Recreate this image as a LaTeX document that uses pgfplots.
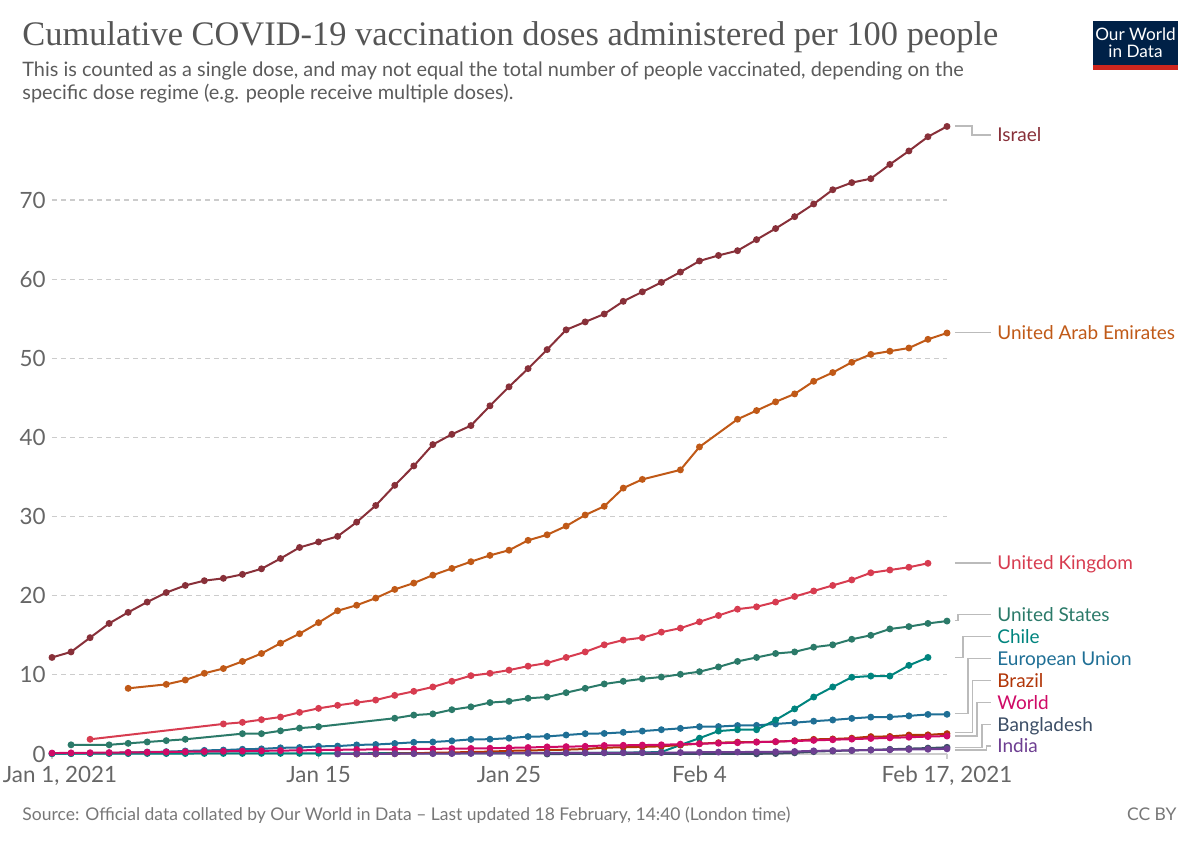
\documentclass[border=0pt]{standalone}
\usepackage{pgfplots}
\pgfplotsset{compat=1.18}
\usepackage{fontspec}
\setmainfont{Lato}
\newfontfamily\titlefont{Liberation Serif}
\definecolor{cIsr}{HTML}{883039}
\definecolor{cUAE}{HTML}{C05917}
\definecolor{cUK}{HTML}{D73C50}
\definecolor{cUS}{HTML}{2B7A69}
\definecolor{cChile}{HTML}{00847E}
\definecolor{cEU}{HTML}{1F6F95}
\definecolor{cBra}{HTML}{B13507}
\definecolor{cWorld}{HTML}{CF0A66}
\definecolor{cBang}{HTML}{3C4E66}
\definecolor{cInd}{HTML}{6D3E91}
\definecolor{tickgray}{HTML}{666666}
\definecolor{titlegray}{HTML}{555555}
\definecolor{subgray}{HTML}{5B5B5B}
\definecolor{footgray}{HTML}{777777}
\definecolor{gridgray}{HTML}{CCCCCC}
\definecolor{conngray}{HTML}{BBBBBB}
\definecolor{owidnavy}{HTML}{002147}
\definecolor{owidred}{HTML}{CE261E}
\begin{document}
\begin{tikzpicture}
\path[use as bounding box] (0,0) rectangle (600bp,-423.5bp);
\begin{axis}[
  at={(26bp,-377bp)}, anchor=south west,
  scale only axis, width=447.5bp, height=316.55bp,
  xmin=0, xmax=47, ymin=0, ymax=80,
  clip=false,
  axis line style={draw=none},
  tick pos=left,
  tick align=outside,
  major tick length=2.5bp,
  xtick={0,14,24,34,47},
  xticklabels={{\hspace*{8bp}Jan 1, 2021},Jan 15,Jan 25,Feb 4,{Feb 17, 2021}},
  ytick={0,10,20,30,40,50,60,70},
  xtick style={draw=gridgray, line width=0.6bp},
  ytick style={draw=none},
  ymajorgrids,
  grid style={draw=gridgray, line width=0.6bp, dash pattern=on 2.5bp off 2bp},
  /pgf/number format/assume math mode=true,
  ticklabel style={font=\fontsize{11.2bp}{13bp}\selectfont, text=tickgray},
  yticklabel style={inner sep=0pt, xshift=-0.5bp},
  xticklabel style={inner sep=0pt, yshift=-3.5bp},
  every axis plot/.append style={line width=1bp, mark=*, mark size=1.2bp, mark options={solid}},
]
\draw[draw=gridgray, line width=0.8bp] (axis cs:0,0) -- (axis cs:47,0);
% Israel
\addplot[color=cIsr] coordinates {
(0,12.2)(1,12.9)(2,14.7)(3,16.5)(4,17.9)(5,19.2)(6,20.4)(7,21.3)(8,21.9)(9,22.2)
(10,22.7)(11,23.4)(12,24.7)(13,26.1)(14,26.8)(15,27.5)(16,29.3)(17,31.4)(18,33.95)(19,36.4)
(20,39.1)(21,40.4)(22,41.5)(23,44.0)(24,46.4)(25,48.7)(26,51.1)(27,53.6)(28,54.6)(29,55.6)
(30,57.2)(31,58.4)(32,59.6)(33,60.9)(34,62.3)(35,63.0)(36,63.6)(37,65.0)(38,66.4)(39,67.9)
(40,69.5)(41,71.3)(42,72.2)(43,72.7)(44,74.5)(45,76.2)(46,78.0)(47,79.3)};
% UAE
\addplot[color=cUAE] coordinates {
(4,8.3)(6,8.8)(7,9.35)(8,10.2)(9,10.8)(10,11.7)(11,12.7)(12,14.0)(13,15.2)(14,16.6)
(15,18.1)(16,18.8)(17,19.7)(18,20.8)(19,21.6)(20,22.6)(21,23.45)(22,24.3)(23,25.1)(24,25.75)
(25,27.0)(26,27.7)(27,28.8)(28,30.2)(29,31.3)(30,33.6)(31,34.7)(33,35.9)(34,38.8)(36,42.3)
(37,43.4)(38,44.5)(39,45.5)(40,47.1)(41,48.2)(42,49.5)(43,50.5)(44,50.9)(45,51.3)(46,52.4)(47,53.2)};
% UK
\addplot[color=cUK] coordinates {
(2,1.86)(9,3.8)(10,4.0)(11,4.34)(12,4.67)(13,5.26)(14,5.77)(15,6.15)(16,6.49)(17,6.82)
(18,7.41)(19,7.92)(20,8.47)(21,9.19)(22,9.9)(23,10.2)(24,10.6)(25,11.1)(26,11.5)(27,12.2)
(28,12.9)(29,13.8)(30,14.4)(31,14.7)(32,15.4)(33,15.9)(34,16.7)(35,17.5)(36,18.3)(37,18.6)
(38,19.2)(39,19.9)(40,20.6)(41,21.3)(42,22.0)(43,22.9)(44,23.25)(45,23.6)(46,24.1)};
% United States
\addplot[color=cUS] coordinates {
(1,1.16)(3,1.16)(4,1.35)(5,1.52)(6,1.69)(7,1.86)(10,2.57)(11,2.57)(12,2.93)(13,3.27)
(14,3.45)(18,4.52)(19,4.92)(20,5.07)(21,5.6)(22,5.96)(23,6.5)(24,6.66)(25,7.04)(26,7.2)
(27,7.75)(28,8.3)(29,8.85)(30,9.19)(31,9.5)(32,9.73)(33,10.07)(34,10.4)(35,11.0)(36,11.7)
(37,12.2)(38,12.7)(39,12.9)(40,13.5)(41,13.8)(42,14.5)(43,15.0)(44,15.8)(45,16.1)(46,16.5)(47,16.8)};
% European Union
\addplot[color=cEU] coordinates {
(0,0.05)(1,0.07)(2,0.1)(3,0.13)(4,0.18)(5,0.25)(6,0.3)(7,0.38)(8,0.46)(9,0.5)
(10,0.6)(11,0.65)(12,0.78)(13,0.82)(14,0.97)(15,1.0)(16,1.15)(17,1.2)(18,1.33)(19,1.48)
(20,1.52)(21,1.66)(22,1.85)(23,1.87)(24,2.0)(25,2.2)(26,2.22)(27,2.4)(28,2.57)(29,2.6)
(30,2.74)(31,2.9)(32,3.07)(33,3.24)(34,3.45)(35,3.47)(36,3.6)(37,3.62)(38,3.8)(39,3.96)
(40,4.15)(41,4.3)(42,4.5)(43,4.66)(44,4.68)(45,4.82)(46,5.0)(47,5.02)};
% Chile
\addplot[color=cChile] coordinates {
(0,0.04)(1,0.04)(2,0.05)(3,0.05)(4,0.05)(5,0.06)(6,0.06)(7,0.06)(8,0.07)(9,0.07)
(10,0.07)(11,0.08)(12,0.08)(13,0.08)(14,0.09)(15,0.09)(16,0.09)(17,0.1)(18,0.1)(19,0.1)
(20,0.1)(21,0.11)(22,0.11)(23,0.12)(24,0.12)(25,0.13)(26,0.13)(27,0.14)(28,0.15)(29,0.16)
(30,0.18)(31,0.2)(32,0.25)(33,1.14)(34,2.0)(35,2.9)(36,3.07)(37,3.07)(38,4.3)(39,5.7)
(40,7.2)(41,8.47)(42,9.7)(43,9.85)(44,9.85)(45,11.2)(46,12.2)};
% Brazil
\addplot[color=cBra] coordinates {
(16,0.0)(17,0.01)(18,0.05)(19,0.1)(20,0.15)(21,0.2)(22,0.25)(23,0.3)(24,0.4)(25,0.45)
(26,0.5)(27,0.55)(28,0.63)(29,0.8)(30,0.85)(31,0.9)(32,0.97)(33,1.14)(34,1.3)(35,1.43)
(36,1.5)(37,1.52)(38,1.55)(39,1.68)(40,1.85)(41,1.9)(42,2.0)(43,2.2)(44,2.22)(45,2.4)(46,2.42)(47,2.57)};
% World
\addplot[color=cWorld] coordinates {
(0,0.12)(1,0.14)(2,0.16)(3,0.18)(4,0.2)(5,0.22)(6,0.25)(7,0.28)(8,0.31)(9,0.34)
(10,0.37)(11,0.4)(12,0.43)(13,0.46)(14,0.5)(15,0.53)(16,0.56)(17,0.58)(18,0.6)(19,0.63)
(20,0.65)(21,0.68)(22,0.7)(23,0.73)(24,0.78)(25,0.82)(26,0.9)(27,0.93)(28,0.97)(29,1.08)
(30,1.1)(31,1.13)(32,1.16)(33,1.25)(34,1.3)(35,1.36)(36,1.43)(37,1.5)(38,1.57)(39,1.64)
(40,1.72)(41,1.8)(42,1.88)(43,1.96)(44,2.04)(45,2.12)(46,2.2)(47,2.27)};
% Bangladesh
\addplot[color=cBang] coordinates {
(26,0.0)(37,0.02)(38,0.06)(39,0.15)(40,0.3)(41,0.38)(42,0.45)(43,0.52)(44,0.6)(45,0.68)(46,0.75)(47,0.85)};
% India
\addplot[color=cInd] coordinates {
(15,0.0)(16,0.01)(17,0.02)(18,0.03)(19,0.04)(20,0.05)(21,0.06)(22,0.07)(23,0.08)(24,0.1)
(25,0.11)(26,0.12)(27,0.13)(28,0.14)(29,0.15)(30,0.16)(31,0.17)(32,0.18)(33,0.19)(34,0.22)
(35,0.24)(36,0.25)(37,0.26)(38,0.28)(39,0.32)(40,0.4)(41,0.43)(42,0.46)(43,0.5)(44,0.53)(45,0.57)(46,0.6)(47,0.65)};
\end{axis}
\begin{scope}[x=0.5bp,y=-0.5bp]
% title and subtitle
\node[anchor=base west, inner sep=0pt, text=titlegray] at (22,46)
  {\resizebox{488bp}{!}{\titlefont Cumulative COVID-19 vaccination doses administered per 100 people}};
\node[anchor=base west, inner sep=0pt, text=subgray, font=\fontsize{9.95bp}{11.5bp}\selectfont] at (22,77)
  {This is counted as a single dose, and may not equal the total number of people vaccinated, depending on the};
\node[anchor=base west, inner sep=0pt, text=subgray, font=\fontsize{9.95bp}{11.5bp}\selectfont] at (22,100)
  {specific dose regime (e.g. people receive multiple doses).};
% logo
\fill[owidnavy] (1093,21) rectangle (1178,65);
\fill[owidred] (1093,65) rectangle (1178,70);
\node[text=white, inner sep=0pt, font=\fontsize{8.6bp}{9bp}\selectfont, align=center] at (1135.5,43)
  {Our World\\[-0.6bp]in Data};
% footer
\node[anchor=base west, inner sep=0pt, text=footgray, font=\fontsize{8.75bp}{10bp}\selectfont] at (22,821)
  {Source: Official data collated by Our World in Data -- Last updated 18 February, 14:40 (London time)};
\node[anchor=base east, inner sep=0pt, text=footgray, font=\fontsize{8.75bp}{10bp}\selectfont] at (1177,821)
  {CC BY};
% connectors
\begin{scope}[draw=conngray, line width=0.6bp]
\draw (955,126) -- (972,126) -- (972,135) -- (991,135);
\draw (955,332.7) -- (991,332.7);
\draw (955,563) -- (991,563);
\draw (955,620.7) -- (958,620.7) -- (958,614.7) -- (991,614.7);
\draw (955,657.3) -- (963,657.3) -- (963,636.7) -- (991,636.7);
\draw (955,713.7) -- (968,713.7) -- (968,658.5) -- (991,658.5);
\draw (955,732.7) -- (972.7,732.7) -- (972.7,680.3) -- (991,680.3);
\draw (955,736) -- (977,736) -- (977,702.3) -- (991,702.3);
\draw (955,747.3) -- (982,747.3) -- (982,724.2) -- (991,724.2);
\draw (955,750) -- (986.7,750) -- (986.7,746) -- (991,746);
\end{scope}
% labels
\begin{scope}[every node/.style={anchor=base west, inner sep=0pt, font=\fontsize{9.5bp}{11bp}\selectfont}]
\node[text=cIsr] at (997,142) {Israel};
\node[text=cUAE] at (997,339.5) {United Arab Emirates};
\node[text=cUK] at (997,570) {United Kingdom};
\node[text=cUS] at (997,621.5) {United States};
\node[text=cChile] at (997,643.5) {Chile};
\node[text=cEU] at (997,665.5) {European Union};
\node[text=cBra] at (997,687.3) {Brazil};
\node[text=cWorld] at (997,709.3) {World};
\node[text=cBang] at (997,731.2) {Bangladesh};
\node[text=cInd] at (997,753) {India};
\end{scope}
\end{scope}
\end{tikzpicture}
\end{document}
